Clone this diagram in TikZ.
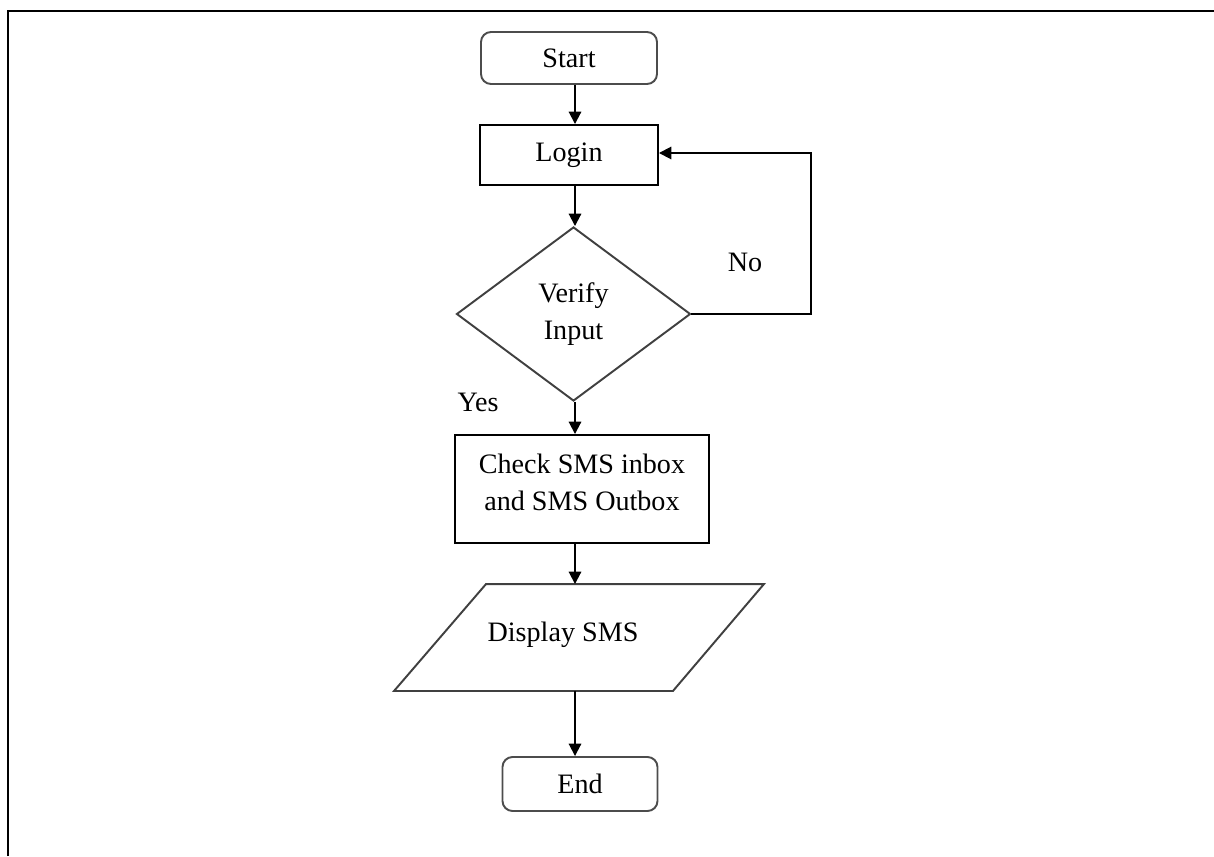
\documentclass[tikz,border=0pt]{standalone}
\usepackage{fontspec}
\setmainfont{Liberation Serif}
\usetikzlibrary{
arrows.meta,
calc,
positioning,
shapes
}
\tikzset{>={Triangle[length=7pt,width=7pt]}}

\begin{document}
\begin{tikzpicture}[font=\fontsize{16}{21}\selectfont, line width=1.1pt,
	terminal/.style={draw=black!70,rounded corners=0.2cm,minimum width=3.52cm,minimum height=1.04cm,inner sep=0},
	process/.style={draw,minimum width=3.56cm,minimum height=1.2cm,inner sep=0,align=center},
	decision/.style={draw=black!75,diamond,minimum width=4.68cm,minimum height=3.48cm,inner sep=0,align=center},
	io/.style={minimum width=7.36cm,minimum height=2.1cm,inner sep=0}]
	% page size and the two frame lines
	\useasboundingbox (0,0) rectangle (24.28,-17.12);
	\draw[line width=1.7pt] (0.16,-17.12) -- (0.16,-0.22) -- (24.28,-0.22);

	\node[terminal] (start) at (11.38,-1.16) {Start};
	\node[process] (login) at (11.38,-3.10) {Login};
	\node[decision] (verify) at (11.47,-6.28) {Verify\\Input};
	\node[process,minimum width=5.08cm,minimum height=2.16cm] (check) at (11.64,-9.78) {Check SMS inbox\\and SMS Outbox\\[-13pt]};
	\node[io] (display) at (11.58,-12.75) {};
	\node (displaytext) at (11.26,-12.70) {Display SMS};
	\node[terminal,minimum width=3.1cm,minimum height=1.08cm] (end) at (11.60,-15.68) {End};

	% slanted box round the display text
	\draw[draw=black!75] ([xshift=1.84cm]display.north west) -- (display.north east)
		-- ([xshift=-1.82cm]display.south east) -- (display.south west) -- cycle;

	% main line runs straight down
	\coordinate (spine) at (11.5,0);
	\coordinate (loop) at (16.22,0);
	\draw[->] (spine |- start.south) -- (spine |- login.north);
	\draw[->] (spine |- login.south) -- (spine |- verify.north);
	\draw[->] (spine |- verify.south) -- (spine |- check.north);
	\draw[->] (spine |- check.south) -- (spine |- display.north);
	\draw[->] (spine |- display.south) -- (spine |- end.north);

	% back to login
	\draw[->] (verify.east) -- (verify.east -| loop) |- ([yshift=0.04cm]login.east);

	\node (no) at (14.9,-5.24) {No};
	\node (yes) at (9.56,-8.04) {Yes};
\end{tikzpicture}
\end{document}
